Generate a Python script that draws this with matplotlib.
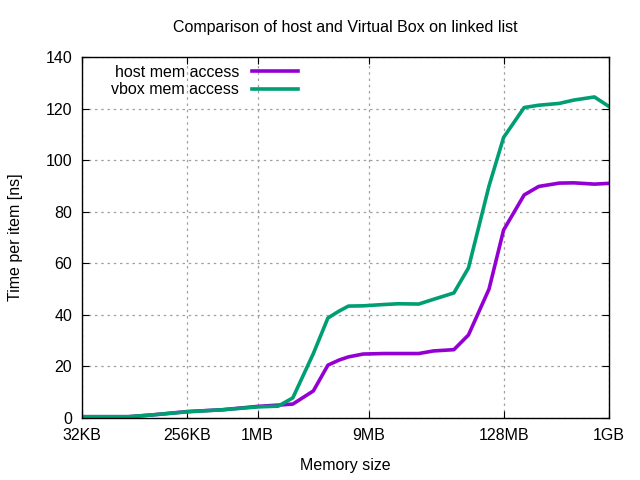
import numpy as np
import matplotlib.pyplot as plt

plt.rcParams['font.family'] = ['Liberation Sans', 'DejaVu Sans']

# memory size in KB
size_kb = [32, 64, 80, 128, 256, 512, 1024, 1536, 2048, 3072, 4096, 5120, 6144,
           8192, 12288, 16384, 24576, 32768, 49152, 65536, 98304, 131072,
           196608, 262144, 393216, 524288, 786432, 1048576]
host = [0.5, 0.5, 0.5, 1.2, 2.5, 3.2, 4.5, 5.0, 5.4, 10.5, 20.5, 22.5, 23.7,
        24.8, 25.0, 25.0, 25.0, 26.0, 26.5, 32.2, 50.0, 72.9,
        86.5, 89.8, 91.1, 91.2, 90.7, 91.0]
vbox = [0.5, 0.5, 0.5, 1.2, 2.4, 3.2, 4.3, 4.6, 7.8, 25.0, 38.8, 41.5, 43.4,
        43.5, 44.0, 44.3, 44.2, 46.0, 48.5, 58.2, 90.0, 108.8,
        120.4, 121.3, 122.0, 123.3, 124.5, 120.8]

tick_kb = [32, 256, 1024, 9216, 131072, 1048576]
tick_labels = ['32KB', '256KB', '1MB', '9MB', '128MB', '1GB']

fs = 11.5

fig = plt.figure(figsize=(6.4, 4.8), dpi=100)
ax = fig.add_axes([82/640, 62/480, 527/640, 361/480])

ax.plot(size_kb, host, color='#9400D3', lw=2.6, label='host mem access')
ax.plot(size_kb, vbox, color='#009E73', lw=2.6, label='vbox mem access')

ax.set_xscale('log', base=2)
ax.set_xlim(32, 1048576)
ax.set_ylim(0, 140)
ax.set_xticks(tick_kb)
ax.set_xticklabels(tick_labels)
ax.minorticks_off()
ax.set_yticks(np.arange(0, 141, 20))

ax.tick_params(direction='in', top=True, right=True, labelsize=fs, length=5, pad=7)
ax.grid(True, color='#a0a0a0', linestyle=(0, (2, 3)), lw=0.9)
for s in ax.spines.values():
    s.set_linewidth(1.0)

ax.set_title('Comparison of host and Virtual Box on linked list', fontsize=fs, pad=18)
ax.set_xlabel('Memory size', fontsize=fs, labelpad=11)
ax.set_ylabel('Time per item [ns]', fontsize=fs, labelpad=16)

ax.legend(loc='upper right', bbox_to_anchor=(306/640, 1 - 57/480), bbox_transform=fig.transFigure,
          frameon=False, markerfirst=False, fontsize=fs, handlelength=2.9,
          borderpad=0, labelspacing=0.15, handletextpad=0.8)

fig.savefig('out.png', dpi=100)
